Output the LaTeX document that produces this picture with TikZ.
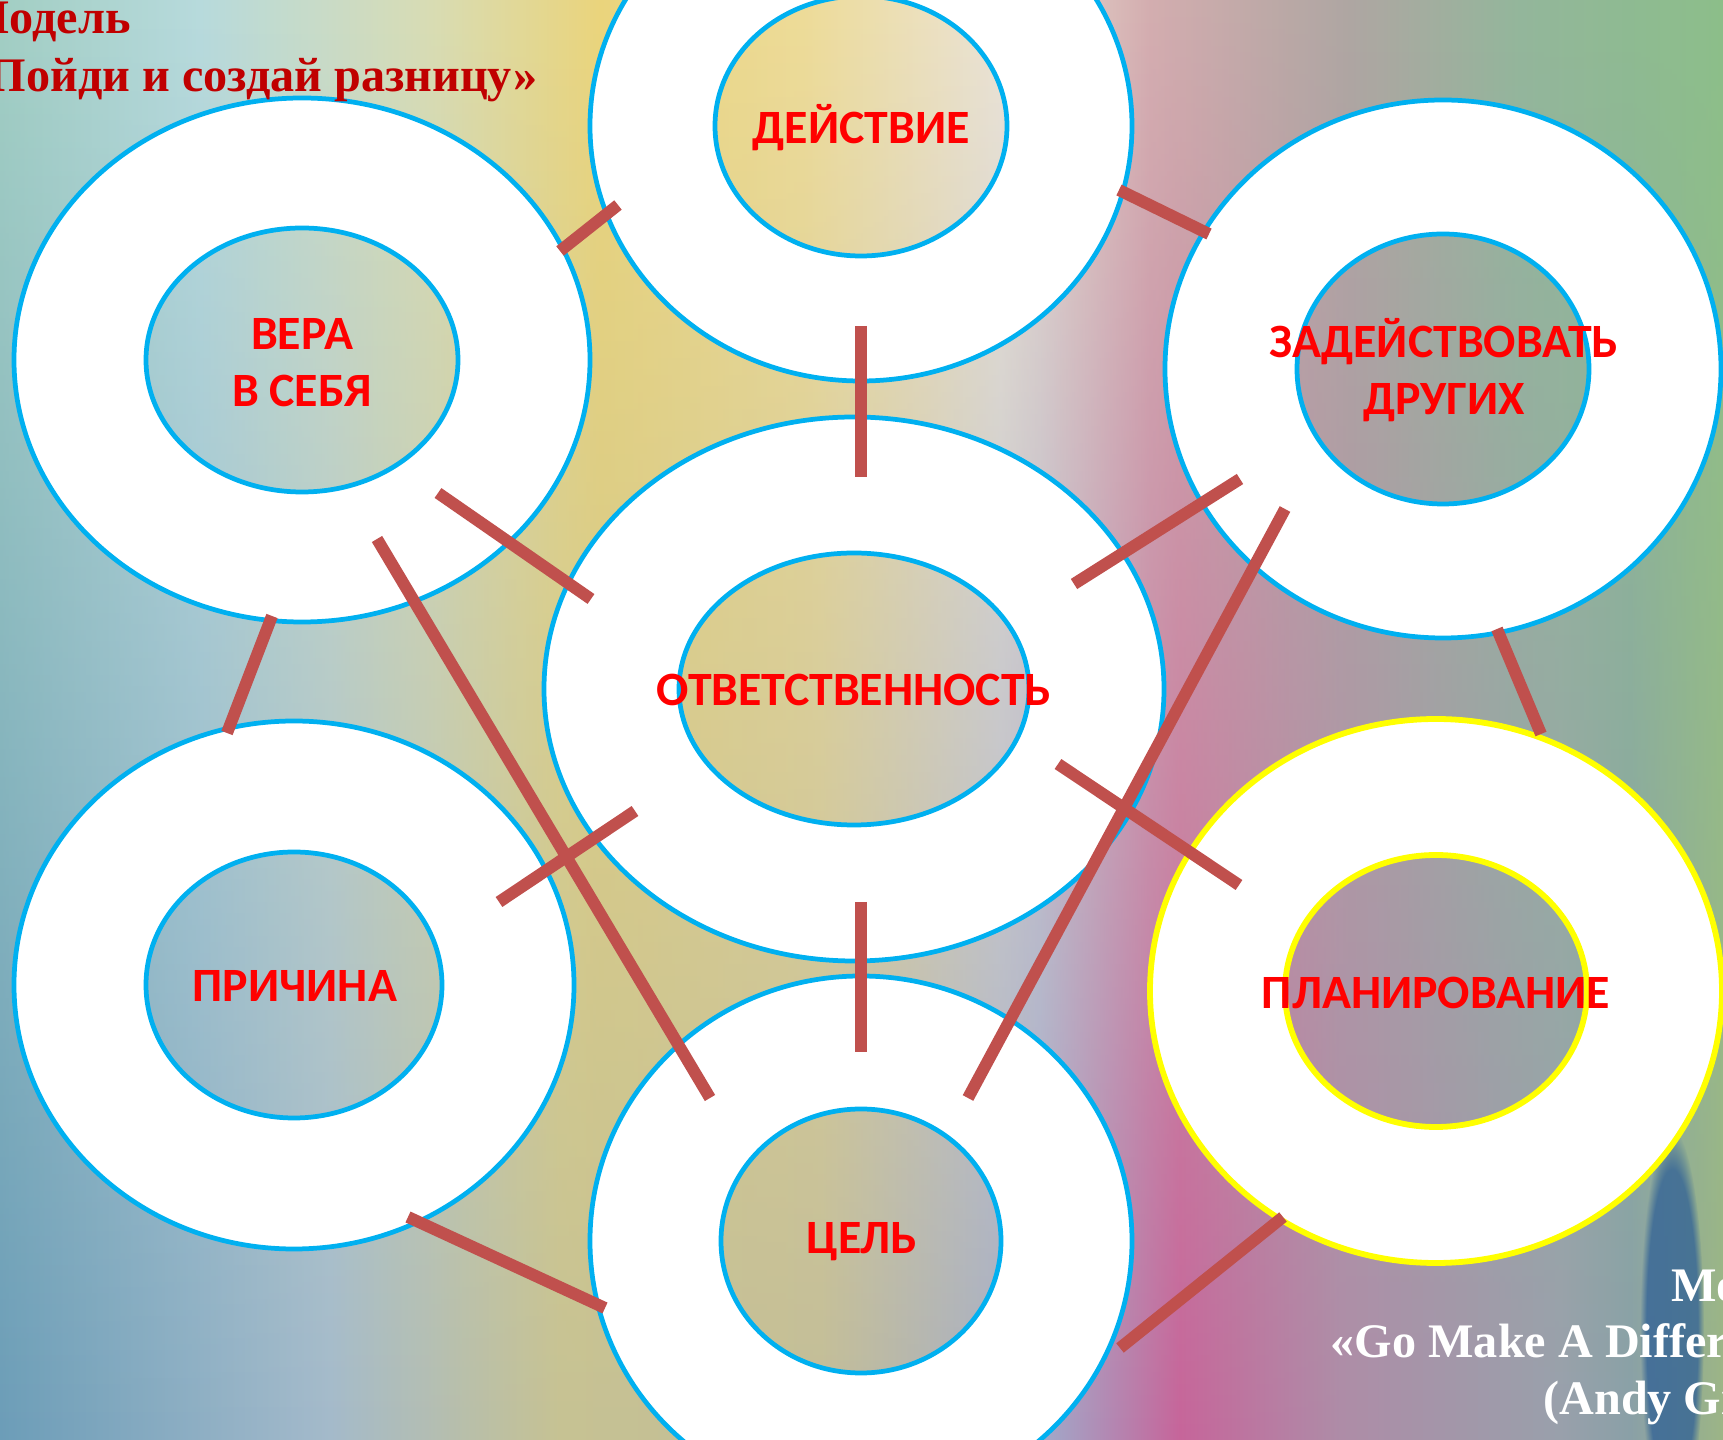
\documentclass[tikz,border=0pt]{standalone}
\usepackage{fontspec}
\usepackage{tikz}
\usetikzlibrary{fadings}

\newfontfamily\lblfont{Carlito}
\newfontfamily\capfont{Liberation Serif}

\definecolor{ringblue}{HTML}{00B0F0}
\definecolor{ringyellow}{HTML}{FFFF00}
\definecolor{barred}{HTML}{C0504D}
\definecolor{lblred}{HTML}{FF0000}
\definecolor{titlered}{HTML}{C00000}
\definecolor{stainblue}{HTML}{2E5F96}

% watercolour paper, top / middle / bottom band
\definecolor{t0}{HTML}{A3CFC4}\definecolor{t1}{HTML}{B8DBDD}
\definecolor{t2}{HTML}{D9DDB4}\definecolor{t3}{HTML}{EBD57C}
\definecolor{t4}{HTML}{EEDC98}\definecolor{t5}{HTML}{ECE4D6}
\definecolor{t6}{HTML}{D4AEB0}\definecolor{t7}{HTML}{AFA7A2}
\definecolor{t8}{HTML}{93B79B}\definecolor{t9}{HTML}{8CBF8A}
\definecolor{m0}{HTML}{9EC9C6}\definecolor{m1}{HTML}{CBE0E0}
\definecolor{m2}{HTML}{E6D58E}\definecolor{m3}{HTML}{F0EAD6}
\definecolor{m4}{HTML}{DDC2D6}\definecolor{m5}{HTML}{D29EBE}
\definecolor{m6}{HTML}{A6A89A}\definecolor{m7}{HTML}{9BBB7A}
\definecolor{l0}{HTML}{6C9DB8}\definecolor{l1}{HTML}{A4BACB}
\definecolor{l2}{HTML}{C6C294}\definecolor{l3}{HTML}{C2BD98}
\definecolor{l4}{HTML}{A0AACA}\definecolor{l5}{HTML}{C6659A}
\definecolor{l6}{HTML}{AE8CA8}\definecolor{l7}{HTML}{9AA0AC}
\definecolor{l8}{HTML}{8AA0A8}\definecolor{l9}{HTML}{9DB586}

\pgfdeclarehorizontalshading{papertop}{100bp}{color(0bp)=(t0); color(25bp)=(t0);
  color(30.8bp)=(t1); color(37.48bp)=(t2); color(42.41bp)=(t3); color(48.21bp)=(t4);
  color(54.02bp)=(t5); color(58.37bp)=(t6); color(64.18bp)=(t7); color(69.11bp)=(t8);
  color(75bp)=(t9); color(100bp)=(t9)}
\pgfdeclarehorizontalshading{papermid}{100bp}{color(0bp)=(m0); color(25bp)=(m0);
  color(33.71bp)=(m1); color(41.25bp)=(m2); color(49.67bp)=(m3); color(56.34bp)=(m4);
  color(60.98bp)=(m5); color(67.08bp)=(m6); color(75bp)=(m7); color(100bp)=(m7)}
\pgfdeclarehorizontalshading{paperlow}{100bp}{color(0bp)=(l0); color(25bp)=(l0);
  color(34.58bp)=(l1); color(41.25bp)=(l2); color(48.8bp)=(l3); color(55.18bp)=(l4);
  color(59.24bp)=(l5); color(63.89bp)=(l6); color(70.27bp)=(l7); color(72.3bp)=(l8);
  color(75bp)=(l9); color(100bp)=(l9)}
\tikzfading[name=midband, top color=transparent!100, middle color=transparent!0, bottom color=transparent!100]
\tikzfading[name=lowband, top color=transparent!100, middle color=transparent!100, bottom color=transparent!0]

\begin{document}
\begin{tikzpicture}[x=0.01cm, y=0.01cm]
    \tikzstyle{ring}=[fill=white, draw=ringblue, line width=1.35pt, even odd rule]
    \tikzstyle{yring}=[ring, draw=ringyellow, line width=1.65pt]
    \tikzstyle{bar}=[draw=barred, line width=3.4pt]
    \tikzstyle{lbl}=[text=lblred, align=center, inner sep=0pt, font=\lblfont\bfseries\fontsize{13.6}{16.2}\selectfont]
    \tikzstyle{capt}=[inner sep=0pt, font=\capfont\bfseries\fontsize{13.7}{16.3}\selectfont]

    \useasboundingbox (0,0) rectangle (1723,-1440);
    \clip (0,0) rectangle (1723,-1440);

    % paper
    \shade[shading=papertop] (0,0) rectangle (1723,-1440);
    \shade[shading=papermid, path fading=midband] (0,0) rectangle (1723,-1440);
    \shade[shading=paperlow, path fading=lowband] (0,0) rectangle (1723,-1440);
    \fill[stainblue, opacity=0.75, path fading=circle with fuzzy edge 20 percent] (1672,-1330) ellipse (32 and 200);

    % rings
    \path[ring] (861,-126) ellipse (271 and 255) (861,-126) ellipse (146 and 130);
    \path[ring] (302,-360) ellipse (288 and 262) (302,-360) ellipse (156 and 132);
    \path[ring] (1443,-369) ellipse (278 and 269) (1443,-369) ellipse (146 and 135);
    \path[ring] (854,-689) ellipse (310 and 272) (854,-689) ellipse (175 and 136);
    \path[ring] (294,-985) ellipse (280 and 264) (294,-985) ellipse (148 and 133);
    \path[ring] (861,-1241) ellipse (271 and 265) (861,-1241) ellipse (140 and 132);
    \path[yring] (1436,-991) ellipse (286 and 272) (1436,-991) ellipse (151 and 136);

    \node[lbl] (act)     at (861,-128)  {ДЕЙСТВИЕ};
    \node[lbl] (faith)   at (302,-363)  {ВЕРА\\В СЕБЯ};
    \node[lbl] (involve) at (1444,-370) {ЗАДЕЙСТВОВАТЬ\\ДРУГИХ};
    \node[lbl] (resp)    at (854,-690)  {ОТВЕТСТВЕННОСТЬ};
    \node[lbl] (cause)   at (295,-986)  {ПРИЧИНА};
    \node[lbl] (goal)    at (862,-1242) {ЦЕЛЬ};
    \node[lbl] (plan)    at (1436,-993) {ПЛАНИРОВАНИЕ};

    % links
    \coordinate (s1) at (560,-251);   \coordinate (e1) at (618,-205);
    \coordinate (s2) at (1119,-190);  \coordinate (e2) at (1209,-234);
    \coordinate (s3) at (861,-326);   \coordinate (e3) at (861,-477);
    \coordinate (s4) at (438,-493);   \coordinate (e4) at (591,-599);
    \coordinate (s5) at (377,-539);   \coordinate (e5) at (710,-1098);
    \coordinate (s6) at (1240,-479);  \coordinate (e6) at (1074,-584);
    \coordinate (s7) at (1285,-509);  \coordinate (e7) at (968,-1098);
    \coordinate (s8) at (1497,-629);  \coordinate (e8) at (1541,-734);
    \coordinate (s9) at (272,-616);   \coordinate (e9) at (227,-733);
    \coordinate (s10) at (635,-811);  \coordinate (e10) at (499,-902);
    \coordinate (s11) at (1058,-764); \coordinate (e11) at (1239,-885);
    \coordinate (s12) at (861,-902);  \coordinate (e12) at (861,-1052);
    \coordinate (s13) at (408,-1217); \coordinate (e13) at (605,-1308);
    \coordinate (s14) at (1283,-1217);\coordinate (e14) at (1120,-1348);

    \draw[bar] (s1) -- (e1);
    \draw[bar] (s2) -- (e2);
    \draw[bar] (s3) -- (e3);
    \draw[bar] (s4) -- (e4);
    \draw[bar] (s5) -- (e5);
    \draw[bar] (s6) -- (e6);
    \draw[bar] (s7) -- (e7);
    \draw[bar] (s8) -- (e8);
    \draw[bar] (s9) -- (e9);
    \draw[bar] (s10) -- (e10);
    \draw[bar] (s11) -- (e11);
    \draw[bar] (s12) -- (e12);
    \draw[bar] (s13) -- (e13);
    \draw[bar] (s14) -- (e14);

    % captions
    \node[capt, text=titlered, anchor=base west] (title1) at (-36,-34) {Модель};
    \node[capt, text=titlered, anchor=base west] (title2) at (-36,-92) {«Пойди и создай разницу»};
    \node[capt, text=white, anchor=base east] (src1) at (1838,-1302) {Модель};
    \node[capt, text=white, anchor=base east] (src2) at (1843,-1358) {«Go Make A Difference»};
    \node[capt, text=white, anchor=base east] (src3) at (1848,-1415) {(Andy Gibson)};
\end{tikzpicture}
\end{document}
